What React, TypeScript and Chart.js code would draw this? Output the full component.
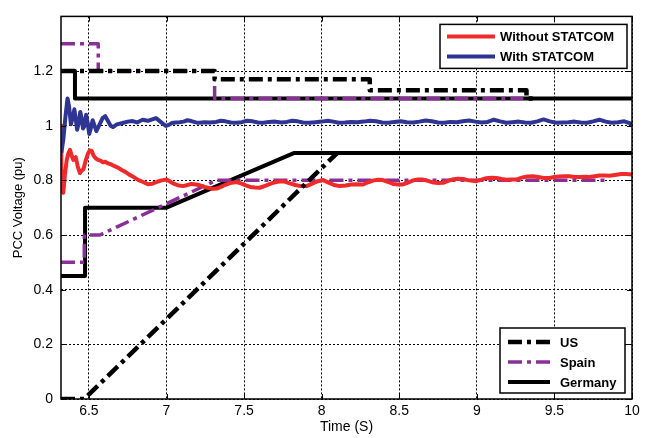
import React, { useEffect, useRef } from 'react';
import { Chart, registerables } from 'chart.js';

Chart.register(...registerables);

// ---------------- data ----------------
const xTickValues = [6.5, 7, 7.5, 8, 8.5, 9, 9.5, 10];
const yTickValues = [0, 0.2, 0.4, 0.6, 0.8, 1, 1.2];
const xMin = 6.32;
const xMax = 10;
const yMin = 0;
const yMax = 1.4;

const seriesNames = ['Without STATCOM', 'With STATCOM', 'US', 'Spain', 'Germany'];

// Without STATCOM: [time, voltage]
const withoutStatcom: [number, number][] = [
  [6.320, 1.00], [6.322, 0.85], [6.328, 0.76], [6.335, 0.755], [6.345, 0.82], [6.357, 0.875], [6.368, 0.90],
  [6.378, 0.912], [6.389, 0.89], [6.399, 0.875], [6.408, 0.88], [6.415, 0.885], [6.428, 0.85], [6.442, 0.827],
  [6.452, 0.835], [6.464, 0.84], [6.478, 0.87], [6.494, 0.898], [6.505, 0.91], [6.518, 0.908], [6.530, 0.89],
  [6.545, 0.88], [6.558, 0.875], [6.575, 0.872], [6.590, 0.866], [6.605, 0.868], [6.623, 0.862], [6.645, 0.858],
  [6.665, 0.852], [6.690, 0.846], [6.711, 0.838], [6.735, 0.831], [6.760, 0.821], [6.780, 0.815], [6.797, 0.809],
  [6.820, 0.801], [6.845, 0.795], [6.865, 0.79], [6.880, 0.786], [6.910, 0.788], [6.940, 0.795], [6.968, 0.80],
  [7.001, 0.803], [7.025, 0.795], [7.050, 0.787], [7.080, 0.781], [7.108, 0.779], [7.135, 0.783], [7.160, 0.787],
  [7.190, 0.785], [7.215, 0.782], [7.245, 0.776], [7.275, 0.772], [7.300, 0.769], [7.323, 0.770], [7.350, 0.776],
  [7.380, 0.784], [7.410, 0.790], [7.451, 0.794], [7.480, 0.789], [7.510, 0.782], [7.540, 0.776], [7.570, 0.774],
  [7.601, 0.773], [7.640, 0.781], [7.680, 0.790], [7.715, 0.795], [7.751, 0.797], [7.790, 0.790], [7.830, 0.783],
  [7.865, 0.779], [7.902, 0.779], [7.940, 0.788], [7.975, 0.797], [8.009, 0.801], [8.045, 0.792], [8.080, 0.783],
  [8.117, 0.779], [8.155, 0.781], [8.190, 0.785], [8.230, 0.786], [8.267, 0.785], [8.300, 0.793], [8.335, 0.800],
  [8.365, 0.802], [8.395, 0.801], [8.430, 0.794], [8.460, 0.787], [8.495, 0.785], [8.524, 0.785], [8.560, 0.793],
  [8.590, 0.800], [8.620, 0.803], [8.653, 0.803], [8.690, 0.797], [8.720, 0.792], [8.750, 0.790], [8.782, 0.791],
  [8.815, 0.798], [8.850, 0.804], [8.880, 0.806], [8.911, 0.805], [8.950, 0.800], [8.997, 0.797], [9.030, 0.803],
  [9.060, 0.808], [9.095, 0.810], [9.126, 0.809], [9.160, 0.805], [9.190, 0.802], [9.220, 0.803], [9.254, 0.803],
  [9.290, 0.810], [9.325, 0.814], [9.361, 0.815], [9.395, 0.812], [9.430, 0.809], [9.469, 0.809], [9.500, 0.812],
  [9.530, 0.814], [9.565, 0.815], [9.598, 0.815], [9.630, 0.812], [9.665, 0.812], [9.700, 0.813], [9.726, 0.812],
  [9.760, 0.815], [9.790, 0.818], [9.825, 0.818], [9.855, 0.817], [9.890, 0.820], [9.930, 0.823], [9.963, 0.823],
  [10.0, 0.821],
];

// With STATCOM: [time, voltage]
const withStatcom: [number, number][] = [
  [6.322, 0.90], [6.335, 0.95], [6.350, 1.04], [6.362, 1.10], [6.372, 1.07], [6.384, 1.005], [6.396, 1.03],
  [6.406, 1.06], [6.416, 1.02], [6.424, 0.985], [6.434, 1.01], [6.444, 1.05], [6.452, 1.03], [6.462, 0.99],
  [6.472, 1.00], [6.482, 1.04], [6.492, 1.01], [6.502, 0.97], [6.512, 0.99], [6.524, 1.02], [6.536, 1.00],
  [6.548, 0.98], [6.565, 1.00], [6.588, 1.028], [6.605, 1.035], [6.620, 1.02], [6.640, 1.00], [6.655, 0.995],
  [6.680, 1.005], [6.717, 1.01], [6.750, 1.015], [6.782, 1.017], [6.810, 1.012], [6.846, 1.022], [6.880, 1.018],
  [6.932, 1.028], [6.960, 1.015], [6.996, 0.999], [7.015, 1.003], [7.035, 1.01],
  [7.060, 1.012], [7.085, 1.013], [7.110, 1.015], [7.135, 1.02], [7.160, 1.017], [7.190, 1.012], [7.215, 1.011],
  [7.245, 1.013], [7.280, 1.012], [7.320, 1.014], [7.350, 1.018], [7.380, 1.016], [7.415, 1.012], [7.450, 1.011],
  [7.485, 1.013], [7.520, 1.018], [7.555, 1.016], [7.590, 1.012], [7.625, 1.011], [7.660, 1.014], [7.700, 1.015],
  [7.740, 1.012], [7.775, 1.014], [7.810, 1.018], [7.845, 1.016], [7.880, 1.012], [7.920, 1.011], [7.960, 1.013],
  [8.000, 1.015], [8.040, 1.018], [8.075, 1.015], [8.110, 1.011], [8.150, 1.012], [8.190, 1.014], [8.230, 1.013],
  [8.270, 1.015], [8.310, 1.018], [8.350, 1.016], [8.390, 1.012], [8.430, 1.011], [8.470, 1.014], [8.510, 1.016],
  [8.550, 1.013], [8.590, 1.012], [8.630, 1.015], [8.670, 1.019], [8.710, 1.016], [8.750, 1.012], [8.790, 1.011],
  [8.830, 1.014], [8.870, 1.013], [8.910, 1.016], [8.950, 1.019], [8.990, 1.015], [9.030, 1.012], [9.070, 1.014],
  [9.110, 1.022], [9.150, 1.016], [9.190, 1.011], [9.230, 1.013], [9.270, 1.015], [9.310, 1.012], [9.350, 1.011],
  [9.390, 1.016], [9.430, 1.023], [9.470, 1.016], [9.510, 1.011], [9.550, 1.012], [9.590, 1.013], [9.630, 1.015],
  [9.670, 1.012], [9.710, 1.011], [9.750, 1.016], [9.790, 1.022], [9.830, 1.015], [9.870, 1.011], [9.910, 1.013],
  [9.950, 1.016], [9.980, 1.010], [10.0, 1.006],
];

// Grid-code limit curves (upper = HVRT, lower = LVRT)
const usUpper: [number, number][] = [
  [6.32, 1.2], [7.31, 1.2], [7.31, 1.17], [8.31, 1.17], [8.31, 1.13], [9.32, 1.13], [9.32, 1.1], [9.36, 1.1],
];
const usLower: [number, number][] = [
  [6.32, 0], [6.47, 0], [8.1, 0.9],
];
const spainUpper: [number, number][] = [
  [6.32, 1.3], [6.56, 1.3], [6.56, 1.2], [7.31, 1.2], [7.31, 1.1], [9.3, 1.1],
];
const spainLower: [number, number][] = [
  [6.32, 0.5], [6.47, 0.5], [6.47, 0.6], [6.57, 0.6], [7.32, 0.8], [9.85, 0.8],
];
const germanyUpper: [number, number][] = [
  [6.32, 1.2], [6.41, 1.2], [6.41, 1.1], [10, 1.1],
];
const germanyLower: [number, number][] = [
  [6.32, 0.45], [6.475, 0.45], [6.475, 0.7], [7.0, 0.7], [7.82, 0.9], [10, 0.9],
];

// ---------------- helpers ----------------
const toPts = (a: [number, number][]) => a.map(([x, y]) => ({ x, y }));
const joinParts = (...parts: [number, number][][]) => {
  const out: { x: number; y: number | null }[] = [];
  parts.forEach((p, i) => {
    if (i > 0) out.push({ x: p[0][0], y: null });
    out.push(...toPts(p));
  });
  return out;
};

const FONT = "'Liberation Sans', Arial, sans-serif";
const RED = '#ee2a2a';
const BLUE = '#2e3592';
const PURPLE = '#8a2f98';
const BLACK = '#000000';
const DASHDOT = [14, 5, 4, 5];

const frameLegendPlugin = {
  id: 'frameLegend',
  afterDatasetsDraw(chart: any) {
    const { ctx, chartArea: a, scales } = chart;
    ctx.save();
    ctx.strokeStyle = '#000';
    ctx.lineWidth = 1;
    ctx.setLineDash([]);
    ctx.beginPath();
    xTickValues.forEach((v) => {
      const px = Math.round(scales.x.getPixelForValue(v)) + 0.5;
      ctx.moveTo(px, a.bottom);
      ctx.lineTo(px, a.bottom - 5);
      ctx.moveTo(px, a.top);
      ctx.lineTo(px, a.top + 5);
    });
    yTickValues.forEach((v) => {
      const py = Math.round(scales.y.getPixelForValue(v)) + 0.5;
      ctx.moveTo(a.left, py);
      ctx.lineTo(a.left + 5, py);
      ctx.moveTo(a.right, py);
      ctx.lineTo(a.right - 5, py);
    });
    ctx.stroke();
    ctx.lineWidth = 1.5;
    ctx.strokeRect(a.left, a.top, a.right - a.left, a.bottom - a.top);
    ctx.restore();
  },
  afterDraw(chart: any) {
    const { ctx, chartArea: a } = chart;
    const ds = chart.data.datasets;
    const drawBox = (x: number, y: number, w: number, h: number, items: number[], lineX1: number, lineX2: number, textX: number, rowYs: number[]) => {
      ctx.save();
      ctx.fillStyle = '#fff';
      ctx.fillRect(x, y, w, h);
      ctx.strokeStyle = '#000';
      ctx.lineWidth = 1.5;
      ctx.setLineDash([]);
      ctx.strokeRect(x, y, w, h);
      items.forEach((idx, i) => {
        const d = ds[idx];
        const ry = rowYs[i];
        ctx.beginPath();
        ctx.strokeStyle = d.borderColor;
        ctx.lineWidth = d.borderWidth;
        ctx.setLineDash(d.borderDash || []);
        ctx.moveTo(lineX1, ry);
        ctx.lineTo(lineX2, ry);
        ctx.stroke();
        ctx.setLineDash([]);
        ctx.fillStyle = '#000';
        ctx.font = `bold 13px ${FONT}`;
        ctx.textBaseline = 'middle';
        ctx.textAlign = 'left';
        ctx.fillText(d.label, textX, ry + 1);
      });
      ctx.restore();
    };
    const r = a.right;
    drawBox(r - 192, a.top + 8, 187, 44, [0, 1], r - 185, r - 137, r - 132, [a.top + 20, a.top + 40]);
    const b = a.bottom;
    drawBox(r - 132, b - 71, 125, 65, [2, 3, 4], r - 124, r - 82, r - 72, [b - 57, b - 37, b - 17]);
  },
};

export default function App() {
  const ref = useRef<HTMLCanvasElement | null>(null);

  useEffect(() => {
    document.body.style.margin = '0';
    const canvas = ref.current;
    if (!canvas) return;
    const chart = new Chart(canvas, {
      type: 'line',
      data: {
        datasets: [
          { label: seriesNames[0], data: toPts(withoutStatcom), borderColor: RED, borderWidth: 4, pointRadius: 0, order: 3 },
          { label: seriesNames[1], data: toPts(withStatcom), borderColor: BLUE, borderWidth: 4, pointRadius: 0, order: 2 },
          { label: seriesNames[2], data: joinParts(usUpper, usLower), borderColor: BLACK, borderWidth: 4.5, borderDash: DASHDOT, pointRadius: 0, order: 1 },
          { label: seriesNames[3], data: joinParts(spainUpper, spainLower), borderColor: PURPLE, borderWidth: 3.5, borderDash: DASHDOT, pointRadius: 0, order: 4 },
          { label: seriesNames[4], data: joinParts(germanyUpper, germanyLower), borderColor: BLACK, borderWidth: 4, pointRadius: 0, order: 5 },
        ] as any,
      },
      options: {
        animation: false,
        responsive: false,
        spanGaps: false,
        layout: { padding: { top: 7, right: 19, left: 0, bottom: 0 } },
        plugins: { legend: { display: false }, tooltip: { enabled: false } },
        elements: { line: { tension: 0, borderCapStyle: 'butt', borderJoinStyle: 'round' } },
        scales: {
          x: {
            type: 'linear',
            min: xMin,
            max: xMax,
            afterFit: (s: any) => { s.height = 39; },
            afterBuildTicks: (s: any) => { s.ticks = xTickValues.map((v) => ({ value: v })); },
            ticks: { color: '#000', font: { family: FONT, size: 14 }, padding: 4, maxRotation: 0, callback: (v: any) => String(v) },
            grid: { color: '#000', lineWidth: 1, drawTicks: false },
            border: { display: false, dash: [2, 2] },
            title: { display: true, text: 'Time (S)', color: '#000', font: { family: FONT, size: 14 }, padding: { top: 0, bottom: 2 } },
          },
          y: {
            type: 'linear',
            min: yMin,
            max: yMax,
            afterFit: (s: any) => { s.width = 61; },
            afterBuildTicks: (s: any) => { s.ticks = yTickValues.map((v) => ({ value: v })); },
            ticks: { color: '#000', font: { family: FONT, size: 14 }, padding: 8, callback: (v: any) => String(v) },
            grid: { color: '#000', lineWidth: 1, drawTicks: false },
            border: { display: false, dash: [2, 2] },
            title: { display: true, text: 'PCC Voltage (pu)', color: '#000', font: { family: FONT, size: 13 }, padding: { top: 11, bottom: 0 } },
          },
        },
      } as any,
      plugins: [frameLegendPlugin],
    });
    return () => chart.destroy();
  }, []);

  return (
    <div style={{ width: 651, height: 438, background: '#fff' }}>
      <canvas ref={ref} width={651} height={438} />
    </div>
  );
}
